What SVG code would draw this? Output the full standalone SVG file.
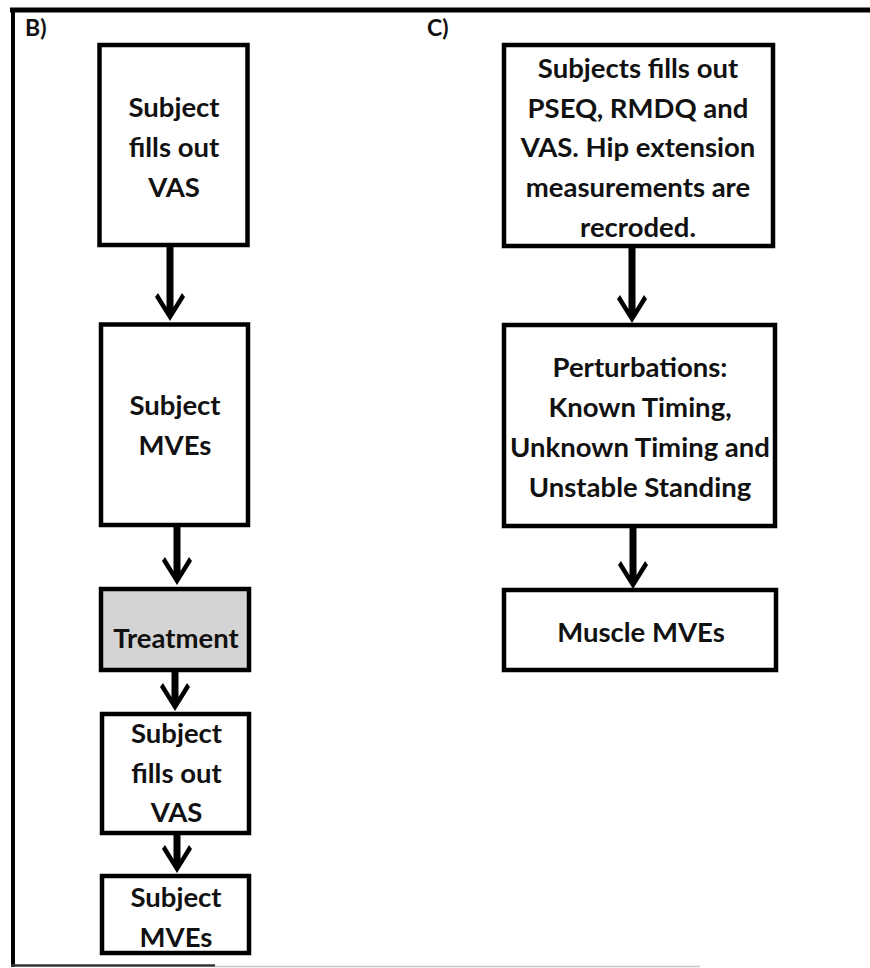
<svg xmlns="http://www.w3.org/2000/svg" width="870" height="968" viewBox="0 0 870 968">
<style>
.box{fill:#fff;stroke:#000;stroke-width:4.5}
.shade{fill:#d4d4d4}
.t{font-family:Lato,"Liberation Sans",sans-serif;font-weight:700;font-size:27.5px;text-anchor:middle;fill:#111}
.lbl{font-family:Lato,"Liberation Sans",sans-serif;font-weight:700;font-size:23px;fill:#111}
.arr{fill:#000}
</style>
<rect width="870" height="968" fill="#fff"/>
<g id="frame">
<line x1="10" y1="10" x2="870" y2="10" stroke="#000" stroke-width="5"/>
<line x1="13" y1="8" x2="13" y2="967" stroke="#000" stroke-width="4"/>
<line x1="11" y1="965.5" x2="215" y2="965.5" stroke="#333" stroke-width="2.5"/>
<line x1="215" y1="966.5" x2="700" y2="966.5" stroke="#c8c8c8" stroke-width="1.5"/>
<text class="lbl" x="25" y="36">B)</text>
<text class="lbl" x="427" y="36">C)</text>
</g>
<g id="connectors">
<polygon class="arr" points="166.5,247 173.5,247 173.5,307 182,293 185,297 170,321 155,297 158,293 166.5,307"/>
<polygon class="arr" points="173.5,527 180.5,527 180.5,571 189,557 192,561 177,585 162,561 165,557 173.5,571"/>
<polygon class="arr" points="171.5,672 178.5,672 178.5,697 187,683 190,687 175,711 160,687 163,683 171.5,697"/>
<polygon class="arr" points="173.5,835 180.5,835 180.5,859 189,845 192,849 177,873 162,849 165,845 173.5,859"/>
<polygon class="arr" points="628.5,248 635.5,248 635.5,309 644,295 647,299 632,323 617,299 620,295 628.5,309"/>
<polygon class="arr" points="629.5,528 636.5,528 636.5,575 645,561 648,565 633,589 618,565 621,561 629.5,575"/>
</g>
<g id="b1">
<rect class="box" x="99.5" y="45" width="148" height="200"/>
<text class="t" x="174" y="117">Subject</text>
<text class="t" x="174" y="157">fills out</text>
<text class="t" x="174" y="197">VAS</text>
</g>
<g id="b2">
<rect class="box" x="101" y="324.5" width="147" height="200.5"/>
<text class="t" x="175" y="415">Subject</text>
<text class="t" x="175" y="455">MVEs</text>
</g>
<g id="b3">
<rect class="box shade" x="101" y="589" width="148" height="81"/>
<text class="t" x="176" y="648">Treatment</text>
</g>
<g id="b4">
<rect class="box" x="102" y="714" width="147" height="119"/>
<text class="t" x="176.5" y="743">Subject</text>
<text class="t" x="176.5" y="783">fills out</text>
<text class="t" x="176.5" y="822">VAS</text>
</g>
<g id="b5">
<rect class="box" x="102" y="876" width="147" height="77"/>
<text class="t" x="176" y="907">Subject</text>
<text class="t" x="176" y="947">MVEs</text>
</g>
<g id="c1">
<rect class="box" x="504" y="45" width="269" height="201"/>
<text class="t" x="638" y="78">Subjects fills out</text>
<text class="t" x="638" y="118">PSEQ, RMDQ and</text>
<text class="t" x="638" y="157">VAS. Hip extension</text>
<text class="t" x="638" y="197">measurements are</text>
<text class="t" x="638" y="237">recroded.</text>
</g>
<g id="c2">
<rect class="box" x="504" y="325" width="271" height="201"/>
<text class="t" x="640" y="377">Perturbations:</text>
<text class="t" x="640" y="417">Known Timing,</text>
<text class="t" x="640" y="457">Unknown Timing and</text>
<text class="t" x="640" y="497">Unstable Standing</text>
</g>
<g id="c3">
<rect class="box" x="504" y="590" width="272" height="80"/>
<text class="t" x="641" y="642">Muscle MVEs</text>
</g>
</svg>
